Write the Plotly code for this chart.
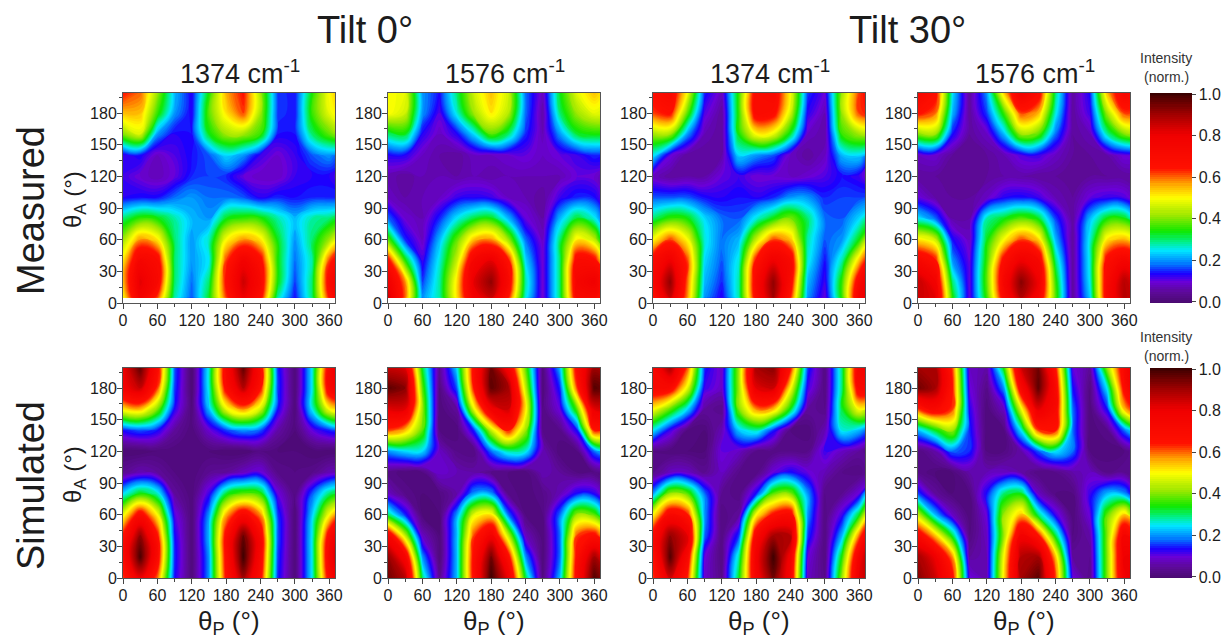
import plotly.graph_objects as go

THETA_P = [0, 30, 60, 90, 120, 150, 180, 210, 240, 270, 300, 330, 360, 390]
THETA_A_MEASURED = [5, 20, 40, 60, 80, 100, 120, 140, 160, 180, 200]
THETA_A_SIMULATED = [0, 20, 40, 60, 80, 100, 120, 140, 160, 180, 200]
X_TICKS = [0, 60, 120, 180, 240, 300, 360]
Y_TICKS = [0, 30, 60, 90, 120, 150, 180]
BAR_TICKS = [0, 0.2, 0.4, 0.6, 0.8, 1.0]
WAVENUMBERS = ["1374", "1576", "1374", "1576"]
TILTS = ["Tilt 0°", "Tilt 30°"]
ROWS = ["Measured", "Simulated"]

# each inner list is one theta_P column, theta_A rising; percent of normalised intensity
M_T0_1374 = [
 [50,55,52,42,30,13,12,12,40,55,65],[78,82,75,58,36,14,9,14,47,55,60],[62,72,70,52,34,14,7,8,20,36,42],
 [28,30,30,30,28,18,10,11,13,20,22],[17,18,20,20,22,20,15,14,14,13,13],[33,30,25,27,20,18,16,17,33,38,34],
 [62,66,62,50,33,18,15,24,42,52,56],[80,85,78,58,36,17,10,20,42,62,65],[68,72,68,52,35,13,8,12,36,42,42],
 [28,34,34,33,28,15,8,9,14,16,16],[14,16,18,20,22,14,12,12,14,14,14],[30,30,28,30,28,15,13,17,30,36,34],
 [65,70,62,42,30,15,13,20,38,48,50],[80,85,75,58,36,14,9,14,45,55,60]]
M_T0_1576 = [
 [85,80,68,38,18,8,7,13,30,50,50],[60,58,35,15,9,6,5,13,33,46,48],[20,16,12,8,7,7,7,8,13,20,20],
 [28,28,26,22,15,8,7,6,8,11,14],[52,52,45,38,25,12,6,5,13,26,30],[78,82,75,55,32,13,7,8,24,42,46],
 [85,92,82,58,34,12,6,8,38,52,55],[65,72,66,42,22,8,7,9,30,44,46],[26,28,24,18,10,7,7,10,15,18,18],
 [9,9,9,8,6,5,7,8,7,6,8],[30,30,30,30,22,12,7,10,20,30,33],[72,75,70,52,33,15,10,12,32,42,48],
 [72,80,68,45,26,14,9,15,34,48,55],[55,55,35,15,9,6,5,13,33,46,48]]
M_T30_1374 = [
 [66,72,70,50,30,17,8,25,42,62,68],[85,92,80,62,36,17,5,10,42,66,72],[58,60,62,50,34,17,6,5,20,38,50],
 [20,22,24,26,24,14,6,5,7,11,15],[13,15,17,18,18,13,10,6,5,5,8],[28,28,26,22,17,14,12,24,34,36,36],
 [70,72,66,45,26,13,9,20,50,70,70],[90,92,80,62,34,15,9,17,48,68,72],[64,70,72,55,40,20,8,8,32,46,50],
 [20,22,26,28,30,20,9,5,8,13,16],[10,12,14,17,18,15,11,8,6,7,10],[36,36,28,20,17,16,14,22,36,42,42],
 [78,72,55,34,24,16,12,24,42,62,62],[85,92,80,60,36,17,5,10,42,66,72]]
M_T30_1576 = [
 [85,86,74,52,25,10,5,8,40,66,74],[82,78,66,46,18,6,5,9,42,60,68],[35,30,20,14,6,5,5,5,14,22,25],
 [10,10,10,8,6,5,5,5,5,5,5],[36,38,36,33,28,8,5,5,8,16,20],[70,74,68,50,33,13,6,7,22,36,55],
 [88,93,80,62,38,14,6,11,42,62,78],[75,80,74,54,33,12,5,12,38,56,70],[38,36,30,22,16,7,5,8,18,26,30],
 [5,5,5,5,5,5,5,5,5,5,5],[23,25,26,26,22,10,5,5,7,12,14],[72,72,68,52,34,12,5,6,28,42,56],
 [88,88,76,56,34,11,5,10,40,62,74],[82,78,66,46,18,6,5,9,42,60,68]]
S_T0_1374 = [
 [62,70,66,48,24,4,0,14,52,78,80],[80,99,92,70,34,7,0,17,55,86,97],[60,70,66,50,27,5,1,14,40,62,70],
 [14,15,14,11,5,2,1,5,13,16,17],[1,1,1,1,1,1,2,1,1,0,0],[20,20,22,20,12,4,1,9,22,26,26],
 [66,68,68,56,32,5,0,16,48,68,72],[90,100,96,72,38,8,0,20,58,88,97],[68,72,72,58,35,10,2,17,46,66,70],
 [15,16,17,16,10,3,1,6,14,16,15],[1,1,1,1,2,2,1,1,1,1,1],[25,25,25,23,17,3,0,10,25,25,25],
 [70,75,70,50,30,7,0,15,50,72,72],[90,99,92,70,34,7,0,17,55,86,97]]
S_T0_1576 = [
 [95,92,75,30,8,3,20,62,82,97,85],[88,75,45,15,3,1,24,55,82,93,82],[30,20,8,1,1,2,24,38,42,38,32],
 [4,1,1,1,2,9,8,2,1,2,4],[22,22,22,20,6,7,3,1,5,17,24],[68,68,62,48,20,6,2,15,48,65,68],
 [100,95,78,52,20,3,18,45,78,97,95],[80,68,45,18,3,2,28,65,85,90,75],[32,20,8,2,1,1,26,42,52,45,38],
 [2,1,1,2,3,7,7,3,2,1,2],[22,18,18,18,7,5,1,3,10,15,22],[70,68,62,42,14,2,2,14,38,62,70],
 [98,90,68,38,13,2,18,65,82,98,90],[85,72,45,14,3,1,25,58,82,93,82]]
S_T30_1374 = [
 [62,66,70,50,20,3,2,25,50,72,74],[84,98,92,72,42,8,1,12,38,70,90],[64,72,82,65,38,8,1,2,24,48,62],
 [9,10,18,20,18,4,1,1,5,12,15],[3,2,2,2,4,8,10,7,3,8,8],[33,28,16,5,2,3,8,23,40,42,42],
 [76,78,72,50,14,2,3,28,58,82,90],[95,100,90,66,38,10,2,15,55,85,93],[75,78,88,70,40,14,3,2,33,50,66],
 [8,10,16,20,20,10,3,1,5,12,16],[3,2,2,2,3,7,12,7,3,2,2],[42,35,22,12,4,3,8,26,32,30,30],
 [82,78,60,33,10,2,5,22,50,72,76],[90,98,92,70,42,8,1,12,38,70,90]]
S_T30_1576 = [
 [93,90,72,45,16,3,2,22,62,95,90],[85,80,55,22,5,1,6,33,72,90,90],[68,58,32,8,1,1,18,42,62,65,62],
 [10,5,2,1,2,6,15,15,13,10,8],[7,7,8,10,14,7,2,1,1,3,6],[52,50,42,42,30,8,2,2,8,20,35],
 [90,88,78,55,33,6,6,25,48,72,85],[97,90,66,30,8,2,17,62,82,97,95],[62,55,32,12,2,3,25,65,72,72,65],
 [10,5,2,1,2,6,18,18,18,14,10],[3,4,6,10,12,8,2,1,1,2,5],[40,40,40,38,22,3,1,3,14,25,42],
 [78,80,76,55,20,4,2,18,55,68,72],[88,82,60,25,5,1,6,33,72,90,90]]

PANELS = [M_T0_1374, M_T0_1576, M_T30_1374, M_T30_1576,
          S_T0_1374, S_T0_1576, S_T30_1374, S_T30_1576]

SCALE = [[0.0, "#4a0a70"], [0.05, "#5c0a96"], [0.10, "#6a00d8"], [0.14, "#1a00ff"], [0.19, "#0080ff"],
         [0.25, "#00e8ff"], [0.29, "#00f090"], [0.34, "#10e800"], [0.42, "#a0e800"], [0.50, "#ffff00"],
         [0.56, "#ffb000"], [0.64, "#ff1000"], [0.80, "#f00000"], [0.90, "#a00000"], [1.0, "#3a0000"]]

W, H = 1229, 640
LEFTS = [123, 388, 653, 918]
PW, PH = 212, 210
TOPS = [93, 368]
INK = "#1c1c1c"
FONT = "Liberation Sans"

fig = go.Figure()
layout = {}
for i, col_data in enumerate(PANELS):
    row, col = divmod(i, 4)
    n = i + 1
    thetas = THETA_A_MEASURED if row == 0 else THETA_A_SIMULATED
    z = [[c[j] / 100 for c in col_data] for j in range(len(thetas))]
    fig.add_trace(go.Contour(x=THETA_P, y=thetas, z=z, xaxis=f"x{n}", yaxis=f"y{n}",
                             autocontour=False, contours=dict(start=0, end=1, size=0.01, coloring="fill",
                                                              showlines=False),
                             line=dict(width=0, smoothing=1.3),
                             coloraxis="coloraxis" if row == 0 else "coloraxis2",
                             hoverinfo="skip"))
    axis = dict(showline=True, mirror=True, linecolor="#555555", linewidth=1, ticks="outside",
                ticklen=5, tickwidth=1, tickcolor="#444444", showgrid=False, zeroline=False,
                tickfont=dict(family=FONT, size=16, color=INK))
    layout[f"xaxis{n}"] = dict(axis, domain=[LEFTS[col] / W, (LEFTS[col] + PW) / W],
                               range=[0, 370], anchor=f"y{n}", tickvals=X_TICKS, ticklabelstandoff=-2,
                               minor=dict(dtick=30, ticks="outside", ticklen=3, tickcolor="#444444"))
    layout[f"yaxis{n}"] = dict(axis, domain=[1 - (TOPS[row] + PH) / H, 1 - TOPS[row] / H],
                               range=[0, 199], anchor=f"x{n}", tickvals=Y_TICKS, ticklabelstandoff=-3,
                               minor=dict(dtick=15, ticks="outside", ticklen=3, tickcolor="#444444"))


def text(x, y, s, size, angle=0, color=INK):
    return dict(x=x / W, y=1 - y / H, xref="paper", yref="paper", text=s, showarrow=False,
                xanchor="center", yanchor="middle", textangle=angle,
                font=dict(family=FONT, size=size, color=color))


notes = []
notes.append(text(365, 30, TILTS[0], 38))
notes.append(text(907, 30, TILTS[1], 38))
for c, wn in enumerate(WAVENUMBERS):
    notes.append(text(LEFTS[c] + PW / 2 + 11, 72, f"{wn} cm<sup>-1</sup>", 27))
    notes.append(text(LEFTS[c] + 106, 622, "θ<sub>P</sub> (°)", 26))
for r, name in enumerate(ROWS):
    notes.append(text(31, TOPS[r] + 118, name, 38, angle=-90))
    notes.append(text(74, TOPS[r] + 107, "θ<sub>A</sub> (°)", 24, angle=-90))
notes.append(text(1166, 58, "Intensity", 14, color="#333333"))
notes.append(text(1166, 77, "(norm.)", 14, color="#333333"))
notes.append(text(1166, 337, "Intensity", 14, color="#333333"))
notes.append(text(1166, 356, "(norm.)", 14, color="#333333"))


def bar(row):
    return dict(cmin=0, cmax=1, colorscale=SCALE,
                colorbar=dict(thickness=42, thicknessmode="pixels", len=PH, lenmode="pixels",
                              x=1150 / W, xanchor="left", xpad=0, ypad=0,
                              y=1 - TOPS[row] / H, yanchor="top", outlinewidth=0,
                              tickvals=BAR_TICKS, tickformat=".1f", ticks="outside", ticklen=4,
                              tickcolor="#444444", tickfont=dict(family=FONT, size=16, color=INK)))


fig.update_layout(width=W, height=H, margin=dict(l=0, r=0, t=0, b=0, autoexpand=False),
                  paper_bgcolor="white", plot_bgcolor="white", showlegend=False, annotations=notes,
                  coloraxis=bar(0), coloraxis2=bar(1), **layout)
fig.write_html("out.html", config={"displayModeBar": False},
               post_script="document.body.style.margin='0';")
